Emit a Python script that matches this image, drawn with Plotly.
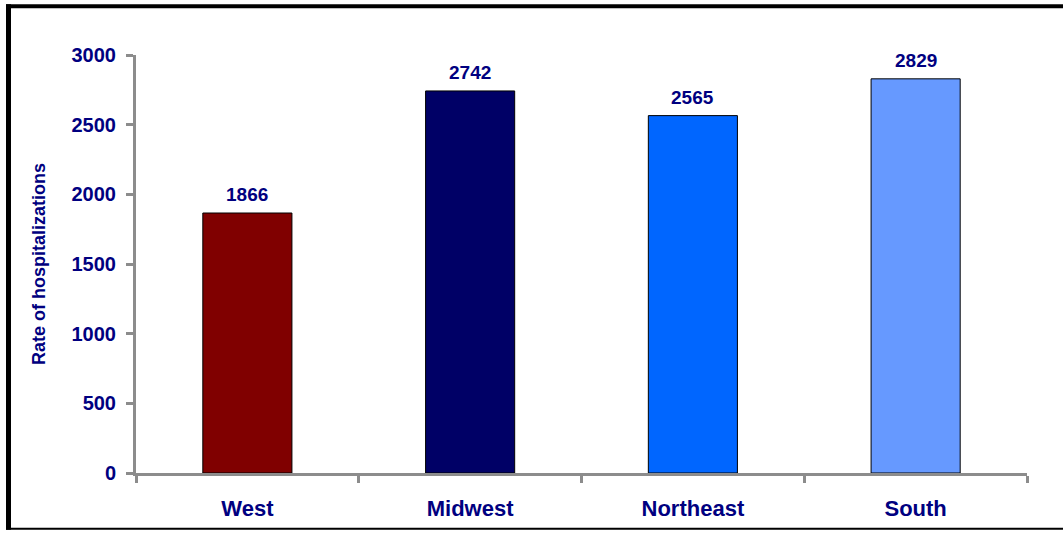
import plotly.graph_objects as go

categories = ["West", "Midwest", "Northeast", "South"]
values = [1866, 2742, 2565, 2829]
colors = ["#800000", "#000066", "#0066FF", "#6699FF"]
y_ticks = [0, 500, 1000, 1500, 2000, 2500, 3000]

W, H = 1063, 533
L, R, T, B = 136, 36, 55, 58
PW, PH = W - L - R, H - T - B

def px(x):
    return (x - L) / PW

def py(y):
    return 1 - (y - T) / PH

navy = "#000080"
font = "Liberation Sans, Arial, sans-serif"

fig = go.Figure()
fig.add_trace(go.Bar(
    x=categories, y=values,
    marker=dict(color=colors, line=dict(color="#000000", width=1)),
    width=0.4,
    hoverinfo="skip",
))

for c, v in zip(categories, values):
    fig.add_annotation(x=c, y=v, text=f"<b>{v}</b>", showarrow=False,
                       yanchor="bottom", yshift=6,
                       font=dict(family=font, size=19, color=navy))

fig.update_layout(
    width=W, height=H,
    margin=dict(l=L, r=R, t=T, b=B),
    paper_bgcolor="white", plot_bgcolor="white",
    showlegend=False,
    font=dict(family=font, color=navy),
    xaxis=dict(
        type="category", showline=True, linecolor="#8c8c8c", linewidth=3,
        ticks="outside", tickson="boundaries", ticklen=7, tickwidth=3, tickcolor="#8c8c8c",
        tickfont=dict(family=font, size=22, color=navy),
        ticklabelstandoff=14,
        showgrid=False, range=[-0.5, 3.5],
        tickvals=categories, ticktext=[f"<b>{c}</b>" for c in categories],
    ),
    yaxis=dict(
        range=[0, 3000], showline=True, linecolor="#8c8c8c", linewidth=3,
        ticks="outside", ticklen=7, tickwidth=3, tickcolor="#8c8c8c",
        tickvals=y_ticks, ticktext=[f"<b>{t}</b>" for t in y_ticks],
        tickfont=dict(family=font, size=20, color=navy),
        ticklabelstandoff=6,
        showgrid=False, zeroline=False,
        title=dict(text="<b>Rate of hospitalizations</b>", font=dict(family=font, size=18, color=navy), standoff=22),
    ),
    shapes=[
        dict(type="line", xref="paper", yref="paper", x0=px(8.5), x1=px(8.5), y0=py(4), y1=py(532),
             line=dict(color="black", width=5)),
        dict(type="line", xref="paper", yref="paper", x0=px(6), x1=px(1070), y0=py(6), y1=py(6),
             line=dict(color="black", width=4)),
        dict(type="line", xref="paper", yref="paper", x0=px(6), x1=px(1070), y0=py(531), y1=py(531),
             line=dict(color="black", width=2)),
    ],
)

fig.write_html("out.html")
